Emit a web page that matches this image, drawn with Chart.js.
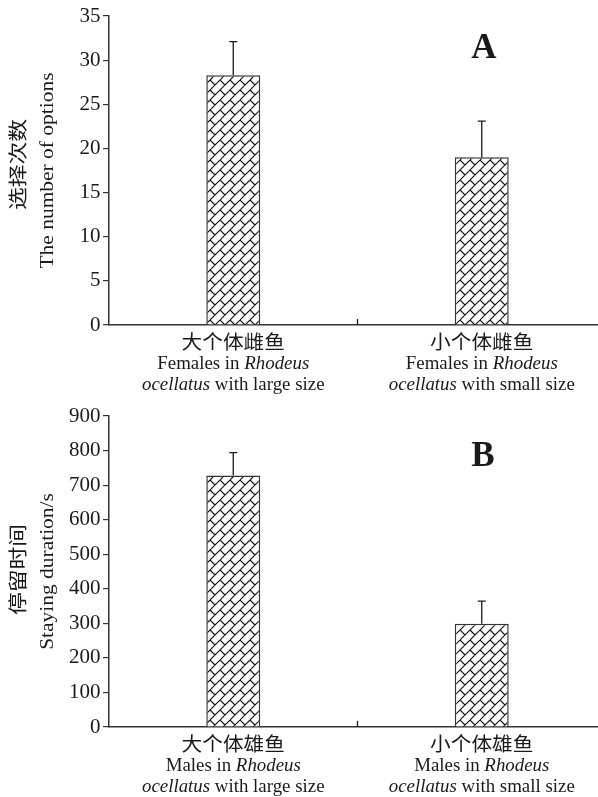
<!DOCTYPE html>
<html>
<head>
<meta charset="utf-8">
<script src="https://cdn.jsdelivr.net/npm/chart.js@4.4.1/dist/chart.umd.min.js"></script>
<style>
  html, body { margin: 0; padding: 0; background: #fff; overflow: hidden; }
  #wrap { position: relative; width: 598px; height: 797px; overflow: hidden; }
  canvas { position: absolute; left: 0; }
</style>
</head>
<body>
<div id="wrap">
  <canvas id="chartA" width="606" height="400" style="top:0"></canvas>
  <canvas id="chartB" width="606" height="397" style="top:400px"></canvas>
</div>
<script>
// Panel A: number of choices made by females
const categoriesCnA = ['大个体雌鱼', '小个体雌鱼'];
const categoriesEn1A = ['Females in _Rhodeus_', 'Females in _Rhodeus_'];
const categoriesEn2A = ['_ocellatus_ with large size', '_ocellatus_ with small size'];
const valuesA = [28.3, 19.0];
const errorsA = [3.8, 4.1];
const yTicksA = { min: 0, max: 35, step: 5 };

// Panel B: staying duration of males
const categoriesCnB = ['大个体雄鱼', '小个体雄鱼'];
const categoriesEn1B = ['Males in _Rhodeus_', 'Males in _Rhodeus_'];
const categoriesEn2B = ['_ocellatus_ with large size', '_ocellatus_ with small size'];
const valuesB = [728, 299];
const errorsB = [66, 65];
const yTicksB = { min: 0, max: 900, step: 100 };

const INK = '#1a1a1a';
const AXIS = '#333';
const SERIF = '"Liberation Serif", "Times New Roman", "Noto Sans CJK SC", serif';

// "_word_" marks italic runs
const parseRuns = (s) => s.split('_').map((t, i) => [t, i % 2 === 1]).filter((r) => r[0]);

// draws mixed roman/italic runs, optionally rotated and widened
const drawRuns = (ctx, runs, x, y, size, opts = {}) => {
  const { align = 'center', baseline = 'middle', rotate = false, stretch = 1 } = opts;
  ctx.save();
  ctx.translate(x, y);
  if (rotate) ctx.rotate(-Math.PI / 2);
  ctx.scale(stretch, 1);
  ctx.fillStyle = INK;
  ctx.textAlign = 'left';
  ctx.textBaseline = baseline;
  const fontOf = (it) => `${it ? 'italic ' : ''}${size}px ${SERIF}`;
  const widths = runs.map(([t, it]) => { ctx.font = fontOf(it); return ctx.measureText(t).width; });
  const total = widths.reduce((a, b) => a + b, 0);
  let cx = align === 'right' ? -total : align === 'center' ? -total / 2 : 0;
  runs.forEach(([t, it], i) => {
    ctx.font = fontOf(it);
    ctx.fillText(t, cx, 0);
    cx += widths[i];
  });
  ctx.restore();
};

// brick-like diagonal hatch used for both bars
const makeHatch = () => {
  const s = 20;
  const c = document.createElement('canvas');
  c.width = s; c.height = s;
  const g = c.getContext('2d');
  g.fillStyle = '#fff';
  g.fillRect(0, 0, s, s);
  g.strokeStyle = '#111';
  g.lineWidth = 1.1;
  g.beginPath();
  for (let k = -1; k <= 5; k++) {           // continuous "/" lines
    const c0 = k * s / 2;
    g.moveTo(c0, 0);
    g.lineTo(c0 - s, s);
  }
  for (let m = -3; m <= 6; m++) {           // staggered "\" links
    const off = (m % 2 === 0) ? 0 : s / 2;
    for (let d = -2 * s + off; d <= 2 * s; d += s) {
      const c1 = m * s / 2, c2 = (m + 1) * s / 2;
      g.moveTo((c1 - d) / 2, (c1 + d) / 2);
      g.lineTo((c2 - d) / 2, (c2 + d) / 2);
    }
  }
  g.stroke();
  return g.createPattern(c, 'repeat');
};

const makeChart = (id, cfg) => {
  const canvas = document.getElementById(id);
  const hatch = makeHatch();

  const figureText = {
    id: 'figureText',
    afterDraw(chart) {
      const { ctx, chartArea, scales: { x, y } } = chart;

      // upper error bars and the category divider tick
      ctx.save();
      ctx.strokeStyle = INK;
      ctx.lineWidth = 1.3;
      ctx.beginPath();
      cfg.values.forEach((v, i) => {
        const px = x.getPixelForValue(i);
        const y0 = y.getPixelForValue(v);
        const y1 = y.getPixelForValue(v + cfg.errors[i]);
        ctx.moveTo(px, y0); ctx.lineTo(px, y1);
        ctx.moveTo(px - 4, y1); ctx.lineTo(px + 4, y1);
      });
      const mid = (x.getPixelForValue(0) + x.getPixelForValue(1)) / 2;
      ctx.moveTo(mid, chartArea.bottom);
      ctx.lineTo(mid, chartArea.bottom - 6);
      ctx.stroke();
      ctx.restore();

      // y tick labels
      y.ticks.forEach((t) => {
        drawRuns(ctx, [[String(t.value), false]], y.right - 8.5, y.getPixelForValue(t.value), 21, { align: 'right' });
      });

      // y titles (Chinese + English, rotated)
      const cy = (chartArea.top + chartArea.bottom) / 2;
      drawRuns(ctx, [[cfg.titleCn, false]], 20, cy + cfg.cnShift, 19, { rotate: true, stretch: 1.2 });
      drawRuns(ctx, [[cfg.titleEn, false]], 48, cy, 19.5, { rotate: true, stretch: 1.1 });

      // category labels
      cfg.cn.forEach((label, i) => {
        const px = x.getPixelForValue(i);
        drawRuns(ctx, [[label, false]], px, chartArea.bottom + 19, 19.5, { stretch: 1.06 });
        drawRuns(ctx, parseRuns(cfg.en1[i]), px, chartArea.bottom + 44, 18.5, { baseline: 'alphabetic', stretch: 1.02 });
        drawRuns(ctx, parseRuns(cfg.en2[i]), px, chartArea.bottom + 65, 18.5, { baseline: 'alphabetic', stretch: 1.02 });
      });

      // panel letter
      ctx.save();
      ctx.fillStyle = INK;
      ctx.font = `bold 35px ${SERIF}`;
      ctx.textAlign = 'center';
      ctx.textBaseline = 'middle';
      ctx.fillText(cfg.letter, cfg.letterX, cfg.letterY);
      ctx.restore();
    },
  };

  return new Chart(canvas, {
    type: 'bar',
    data: {
      labels: cfg.cn,
      datasets: [{
        data: cfg.values,
        backgroundColor: hatch,
        borderColor: AXIS,
        borderWidth: 1.5,
        barPercentage: 0.217,
        categoryPercentage: 1,
      }],
    },
    options: {
      responsive: false,
      animation: false,
      devicePixelRatio: 1,
      layout: { padding: { top: 16, right: 0, left: 0, bottom: 0 } },
      plugins: { legend: { display: false }, tooltip: { enabled: false } },
      scales: {
        x: {
          type: 'category',
          ticks: { display: false },
          grid: { display: false },
          border: { display: true, color: AXIS, width: 1.5 },
          afterFit: (scale) => { scale.height = cfg.xSpace; },
        },
        y: {
          min: cfg.ticks.min,
          max: cfg.ticks.max,
          ticks: { display: false, stepSize: cfg.ticks.step },
          grid: { drawOnChartArea: false, drawTicks: true, tickLength: 6, color: AXIS, lineWidth: 1.2 },
          border: { display: true, color: AXIS, width: 1.5 },
          afterFit: (scale) => { scale.width = 109; },
        },
      },
    },
    plugins: [figureText],
  });
};

makeChart('chartA', {
  cn: categoriesCnA, en1: categoriesEn1A, en2: categoriesEn2A,
  values: valuesA, errors: errorsA, ticks: yTicksA,
  titleCn: '选择次数', titleEn: 'The number of options', cnShift: -6,
  letter: 'A', letterX: 484, letterY: 49, xSpace: 75,
});

makeChart('chartB', {
  cn: categoriesCnB, en1: categoriesEn1B, en2: categoriesEn2B,
  values: valuesB, errors: errorsB, ticks: yTicksB,
  titleCn: '停留时间', titleEn: 'Staying duration/s', cnShift: -2,
  letter: 'B', letterX: 483, letterY: 57, xSpace: 70,
});
</script>
</body>
</html>
